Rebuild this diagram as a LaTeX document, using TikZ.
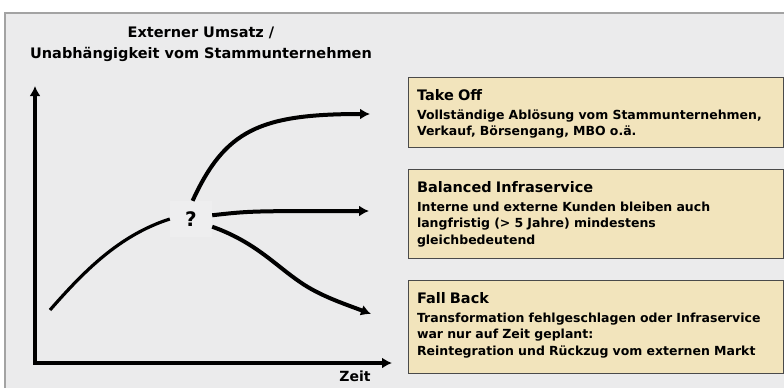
\documentclass[tikz,border=0pt]{standalone}
\usepackage{fontspec}
\setmainfont{DejaVu Sans}
\usetikzlibrary{arrows.meta}

\definecolor{bggray}{HTML}{EBEBEC}
\definecolor{framegray}{HTML}{A3A3A3}
\definecolor{boxfill}{HTML}{F2E4BC}
\definecolor{boxline}{HTML}{4A4A4A}
\definecolor{qfill}{HTML}{EEEEEF}

\newcommand{\boxtitle}[1]{{\fontsize{14.5}{18}\selectfont\rule{0pt}{16.5pt}#1\par}\vspace{2.5pt}}
\newcommand{\boxend}[1]{\rule[-#1]{0pt}{#1}}

\tikzset{
  trend/.style={line width=4pt, -{Latex[length=10pt,width=11pt]}},
  infobox/.style={draw=boxline, line width=1pt, fill=boxfill, anchor=north west,
    text width=358pt, inner xsep=8.5pt, inner ysep=6pt, align=left,
    font=\bfseries\fontsize{12.5}{16.5}\selectfont},
}

\begin{document}
\begin{tikzpicture}[x=1pt, y=-1pt]
  \useasboundingbox (0,0) rectangle (784,388);
  % background and frame
  \fill[bggray] (5,13) rectangle (784,388);
  \draw[framegray, line width=1.5pt] (5,388) -- (5,13) -- (784,13);

  % axes
  \coordinate (origin) at (35,363);
  \coordinate (ytip) at (35,86);
  \coordinate (xtip) at (392,363);
  \draw[line width=4pt, {Latex[length=10pt,width=11pt]}-{Latex[length=10pt,width=11pt]}]
    (ytip) -- (origin) -- (xtip);
  \node[font=\bfseries\fontsize{14.5}{21}\selectfont, align=center] (ylabel) at (201,44)
    {Externer Umsatz /\\Unabhängigkeit vom Stammunternehmen};
  \node[font=\bfseries\fontsize{14}{16}\selectfont, anchor=base] (xlabel) at (355,381.5) {Zeit};

  % question mark and trends
  \node[fill=qfill, minimum width=42pt, minimum height=36pt, inner sep=0pt,
    font=\bfseries\fontsize{20}{20}\selectfont] (q) at (191,219) {?};
  \coordinate (start) at (50,310);
  \coordinate (takeoff) at (370,114);
  \coordinate (balanced) at (369,211);
  \coordinate (fallback) at (371,314);
  \draw[line width=3.2pt] (start) .. controls (85,270) and (120,235) .. (q.west);
  \draw[trend] (q.85) .. controls (225,130) and (260,114) .. (takeoff);
  \draw[trend] (q.10) .. controls (250,211) .. (balanced);
  \draw[trend] (q.-20) .. controls (255,242) and (275,265) .. (300,282)
    .. controls (320,296) and (345,304) .. (fallback);

  % scenario boxes
  \node[infobox] (boxtakeoff) at (408,77)
    {\boxtitle{Take Off}Vollständige Ablösung vom Stammunternehmen,\\Verkauf, Börsengang, MBO o.ä.\boxend{6pt}};
  \node[infobox] (boxbalanced) at (408,169)
    {\boxtitle{Balanced Infraservice}Interne und externe Kunden bleiben auch\\langfristig (> 5 Jahre) mindestens\\gleichbedeutend\boxend{8pt}};
  \node[infobox] (boxfallback) at (408,280)
    {\boxtitle{Fall Back}Transformation fehlgeschlagen oder Infraservice\\war nur auf Zeit geplant:\\Reintegration und Rückzug vom externen Markt\boxend{12pt}};
\end{tikzpicture}
\end{document}
